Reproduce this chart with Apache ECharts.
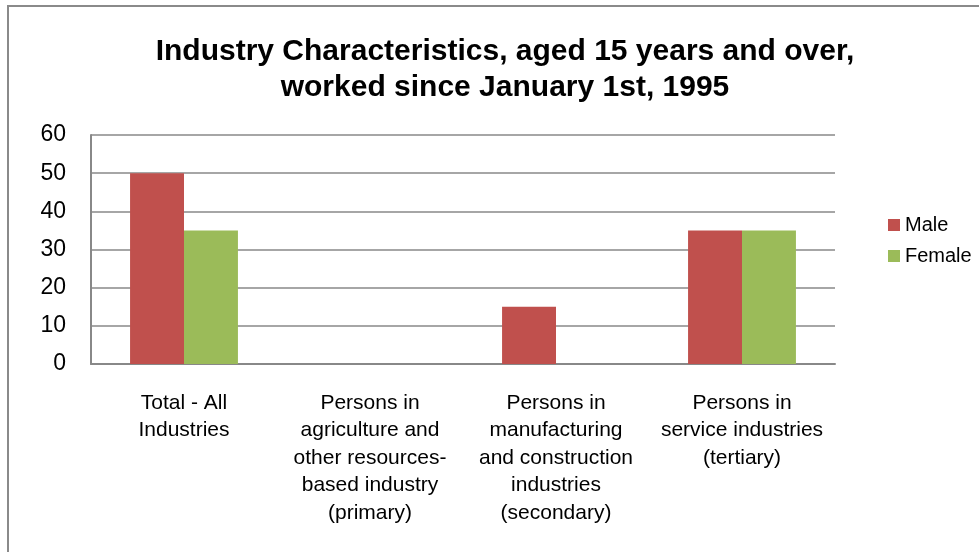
<!DOCTYPE html>
<html>
<head>
<meta charset="utf-8">
<script src="https://cdn.jsdelivr.net/npm/echarts@6/dist/echarts.min.js"></script>
<style>
  html, body { margin: 0; padding: 0; background: #fff; }
  #chart { width: 979px; height: 552px; }
</style>
</head>
<body>
<div id="chart"></div>
<script>
const categories = [
  'Total - All\nIndustries',
  'Persons in\nagriculture and\nother resources-\nbased industry\n(primary)',
  'Persons in\nmanufacturing\nand construction\nindustries\n(secondary)',
  'Persons in\nservice industries\n(tertiary)'
];
const maleValues = [50, 0, 15, 35];
const femaleValues = [35, 0, 0, 35];
const yTicks = { min: 0, max: 60, interval: 10 };

const font = '"Liberation Sans", Arial, Helvetica, sans-serif';
const chart = echarts.init(document.getElementById('chart'), null, { renderer: 'canvas' });

chart.setOption({
  backgroundColor: '#ffffff',
  animation: false,
  graphic: [{
    type: 'rect',
    shape: { x: 8, y: 6, width: 1100, height: 700 },
    style: { fill: 'none', stroke: '#8a8a8a', lineWidth: 2 },
    silent: true
  }],
  title: {
    text: 'Industry Characteristics, aged 15 years and over,\nworked since January 1st, 1995',
    left: 500,
    textAlign: 'center',
    top: 29,
    textStyle: {
      fontFamily: font,
      fontWeight: 'bold',
      fontSize: 30,
      lineHeight: 36,
      color: '#000'
    }
  },
  legend: {
    orient: 'vertical',
    left: 883,
    top: 210,
    itemWidth: 12,
    itemHeight: 12,
    itemGap: 11,
    icon: 'rect',
    textStyle: { fontFamily: font, fontSize: 20, color: '#000' },
    data: ['Male', 'Female']
  },
  grid: { left: 91, right: 144, top: 135, bottom: 188 },
  xAxis: {
    type: 'category',
    data: categories,
    axisLine: { show: true, lineStyle: { color: '#888', width: 2 } },
    axisTick: { show: false },
    axisLabel: {
      interval: 0,
      margin: 25,
      fontFamily: font,
      fontSize: 21,
      lineHeight: 27.5,
      color: '#000',
      align: 'center'
    }
  },
  yAxis: {
    type: 'value',
    min: yTicks.min,
    max: yTicks.max,
    interval: yTicks.interval,
    axisLine: { show: true, lineStyle: { color: '#888', width: 2 } },
    axisTick: { show: false },
    splitLine: { show: true, lineStyle: { color: '#888', width: 1.5 } },
    axisLabel: { fontFamily: font, fontSize: 23, color: '#000', margin: 25 }
  },
  series: [
    {
      name: 'Male',
      type: 'bar',
      data: maleValues,
      barGap: '0%',
      barCategoryGap: '42%',
      itemStyle: { color: '#C0504D' }
    },
    {
      name: 'Female',
      type: 'bar',
      data: femaleValues,
      itemStyle: { color: '#9BBB59' }
    }
  ]
});
</script>
</body>
</html>
